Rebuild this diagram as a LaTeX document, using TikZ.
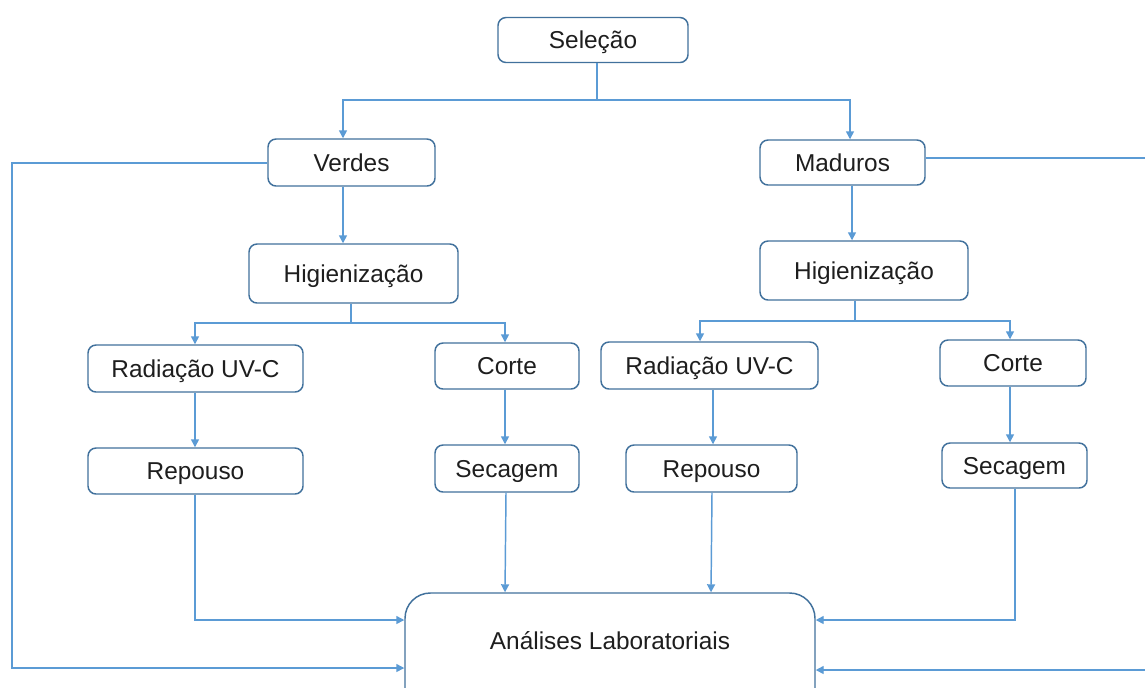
\documentclass[tikz,border=0pt]{standalone}
\usepackage{fontspec}
\setmainfont{Liberation Sans}
\usetikzlibrary{arrows.meta}
\definecolor{ln}{RGB}{91,155,213}
\definecolor{bd}{RGB}{65,113,156}
\definecolor{tx}{RGB}{30,30,30}
\begin{document}
\begin{tikzpicture}[x=0.75pt,y=-0.75pt,
  box/.style={draw=bd,line width=1.1pt,rounded corners=6pt,fill=white,inner sep=0pt,
    font=\fontsize{18.3}{22}\selectfont,text=tx,text height=13.2pt,text depth=0pt},
  sz/.style 2 args={minimum width=#1*0.75pt,minimum height=#2*0.75pt},
  conn/.style={draw=ln,line width=1.1pt},
  arr/.style={conn,-{Triangle[length=6pt,width=6pt]}}]
\useasboundingbox (0,0) rectangle (1145,687);
\fill[white] (0,0) rectangle (1145,687);

% nodes
\node[box,sz={190}{45}] (sel) at (593,40) {Seleção};
\node[box,sz={167}{47}] (ver) at (351.5,162.5) {Verdes};
\node[box,sz={165}{45}] (mad) at (842.5,162.5) {Maduros};
\node[box,sz={209}{59}] (hig1) at (353.5,273.5) {Higienização};
\node[box,sz={208}{59}] (hig2) at (864,270.5) {Higienização};
\node[box,sz={215}{47}] (rad1) at (195.5,368.5) {Radiação UV-C};
\node[box,sz={144}{46}] (cor1) at (507,366) {Corte};
\node[box,sz={217}{47}] (rad2) at (709.5,365.5) {Radiação UV-C};
\node[box,sz={146}{46}] (cor2) at (1013,363) {Corte};
\node[box,sz={215}{46}] (rep1) at (195.5,471) {Repouso};
\node[box,sz={144}{47}] (sec1) at (507,468.5) {Secagem};
\node[box,sz={171}{47}] (rep2) at (711.5,468.5) {Repouso};
\node[box,sz={145}{45}] (sec2) at (1014.5,465.5) {Secagem};
\node[box,sz={410}{126},rounded corners=19pt] (ana) at (610,656) {\raisebox{11.25pt}{Análises Laboratoriais}};

% top fork
\draw[conn] (sel.south -| 597,0) -- (597,100);
\draw[arr] (597,100) -| (ver.north -| 343,0);
\draw[arr] (597,100) -| (mad.north -| 850,0);

% left branch
\draw[arr] (ver.south -| 343,0) -- (hig1.north -| 343,0);
\draw[conn] (hig1.south -| 351,0) -- (351,323);
\draw[arr] (351,323) -| (rad1.north -| 195,0);
\draw[arr] (351,323) -| (cor1.north -| 505,0);
\draw[arr] (rad1.south -| 195,0) -- (rep1.north -| 195,0);
\draw[arr] (cor1.south -| 505,0) -- (sec1.north -| 505,0);
\draw[arr] (rep1.south -| 195,0) |- (ana.west |- 0,620);
\draw[arr] (sec1.south -| 506,0) -- (ana.north -| 505,0);

% right branch
\draw[arr] (mad.south -| 852,0) -- (hig2.north -| 852,0);
\draw[conn] (hig2.south -| 855,0) -- (855,321);
\draw[arr] (855,321) -| (rad2.north -| 700,0);
\draw[arr] (855,321) -| (cor2.north -| 1010,0);
\draw[arr] (rad2.south -| 713,0) -- (rep2.north -| 713,0);
\draw[arr] (cor2.south -| 1010,0) -- (sec2.north -| 1010,0);
\draw[arr] (rep2.south -| 712,0) -- (ana.north -| 711,0);
\draw[arr] (sec2.south -| 1015,0) |- (ana.east |- 0,620);

% outer loops
\draw[arr] (ver.west |- 0,163) -- (12,163) -- (12,668) -- (ana.west |- 0,668);
\draw[arr] (mad.east |- 0,158) -- (1150,158) -- (1150,670) -- (ana.east |- 0,670);
\end{tikzpicture}
\end{document}
